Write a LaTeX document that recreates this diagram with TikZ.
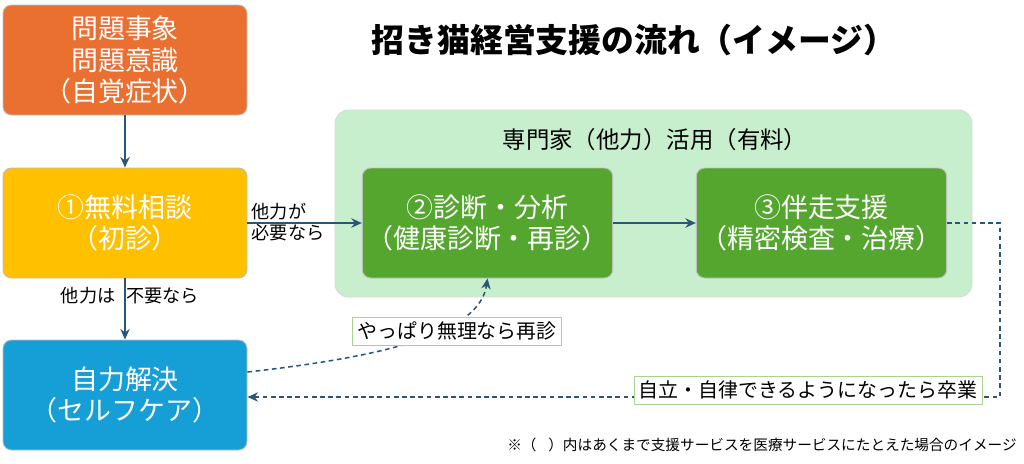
\documentclass[tikz,border=0pt]{standalone}
\usepackage{fontspec}
\setmainfont{Noto Sans CJK JP}
\usetikzlibrary{positioning,calc,arrows.meta}
\definecolor{orangebox}{RGB}{234,112,50}
\definecolor{yellowbox}{RGB}{255,192,0}
\definecolor{bluebox}{RGB}{22,158,214}
\definecolor{greenbox}{RGB}{84,166,46}
\definecolor{panelcolor}{RGB}{199,239,206}
\definecolor{linkcolor}{RGB}{44,86,120}
\tikzset{
  %% box : one step of the flow
  box/.style={
    rectangle,
    rounded corners=0.25cm,
    draw=black!25,
    thick,
    text=white,
    minimum width=244*0.03cm,
    minimum height=110*0.03cm,
    align=center,
    font=\fontsize{23}{27}\selectfont
  },
  %% note : a label on a dashed path
  note/.style={
    rectangle,
    fill=white,
    draw=greenbox!50,
    inner sep=4pt,
    font=\fontsize{17}{20}\selectfont
  },
  flow/.style={linkcolor, line width=1.6pt, -{Stealth[length=9pt,width=8pt]}},
  back/.style={linkcolor, line width=1.3pt, dash pattern=on 4pt off 3pt, -{Stealth[length=9pt,width=8pt]}},
  small/.style={font=\fontsize{15.5}{18}\selectfont, align=left}
}
\begin{document}
\begin{tikzpicture}[x=0.03cm, y=-0.03cm]
  \useasboundingbox (0,0) rectangle (1024,463);

  %% Panel of the paid experts
  \node (panel) [rectangle, rounded corners=0.4cm, fill=panelcolor,
    draw=black!15, thick, minimum width=637*0.03cm, minimum height=187*0.03cm]
    at (653.5,203.5) {};
  \node (paneltitle) at (655,140) {\fontsize{20}{24}\selectfont 専門家（他力）活用（有料）};

  \node (title) at (634,40) {\fontsize{28}{32}\selectfont\bfseries 招き猫経営支援の流れ（イメージ）};

  %% Steps
  \node (problem) [box, fill=orangebox] at (125,60) {問題事象\\問題意識\\（自覚症状）};
  \node (consult) [box, fill=yellowbox] at (125,223) {①無料相談\\（初診）};
  \node (self) [box, fill=bluebox] at (125,395) {自力解決\\（セルフケア）};
  \node (diag) [box, fill=greenbox] at (487.5,223) {②診断・分析\\（健康診断・再診）};
  \node (support) [box, fill=greenbox] at (821.5,223) {③伴走支援\\（精密検査・治療）};

  %% Connections
  \draw [flow] (problem) -- (consult);
  \draw [flow] (consult) -- (self);
  \draw [flow] (consult) -- (diag);
  \draw [flow] (diag) -- (support);
  \node [small] at (130,296) {他力は\hspace{0.6em}不要なら};
  \node [small] at (288,222) {他力が\\必要なら};

  %% Dashed ways back
  \coordinate (corner1) at (1000,223);
  \coordinate (corner2) at (1000,397);
  \draw [back] (support.east) -- (corner1) -- (corner2) -- (self.east |- corner2);
  \node (graduate) [note] at (808,390) {自立・自律できるようになったら卒業};

  \draw [back] (self.east |- 0,372) .. controls (400,355) and (480,330) .. (diag.south);
  \node (retry) [note] at (457,331) {やっぱり無理なら再診};

  \node (footnote) [font=\fontsize{12.5}{14}\selectfont] at (762,445)
    {※（\hspace{0.8em}）内はあくまで支援サービスを医療サービスにたとえた場合のイメージ};
\end{tikzpicture}
\end{document}
